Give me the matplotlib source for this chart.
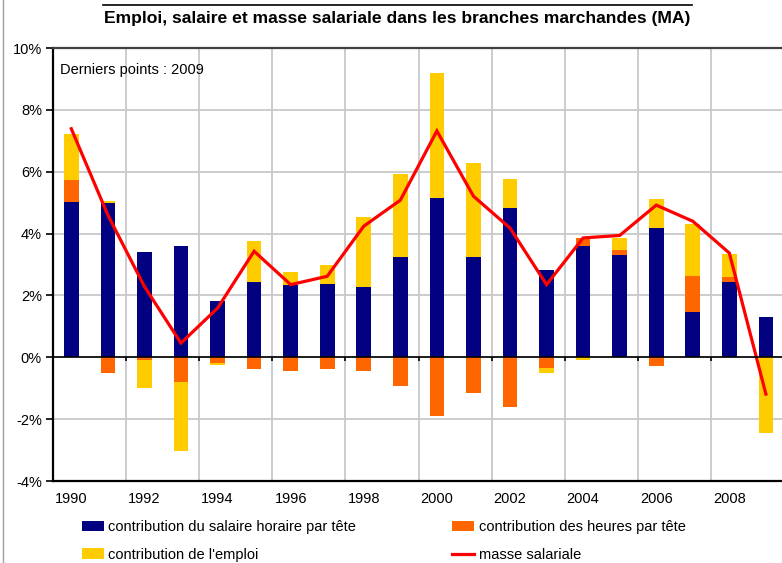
import numpy as np
import matplotlib
matplotlib.use("Agg")
import matplotlib.pyplot as plt
from matplotlib.lines import Line2D
from matplotlib.patches import Patch

# Data (contributions in % points)
years = list(range(1990, 2010))
salaire = [5.01, 5.00, 3.42, 3.59, 1.81, 2.45, 2.35, 2.37, 2.26, 3.25,
           5.14, 3.25, 4.83, 2.83, 3.59, 3.32, 4.18, 1.47, 2.43, 1.30]
heures = [0.72, -0.50, -0.08, -0.81, -0.19, -0.39, -0.44, -0.39, -0.43, -0.94,
          -1.90, -1.14, -1.62, -0.33, 0.26, 0.16, -0.29, 1.15, 0.17, 0.00]
emploi = [1.49, 0.06, -0.90, -2.21, -0.05, 1.30, 0.41, 0.60, 2.27, 2.69,
          4.05, 3.04, 0.94, -0.17, -0.10, 0.38, 0.95, 1.69, 0.75, -2.44]
masse = [7.39, 4.60, 2.29, 0.46, 1.59, 3.43, 2.35, 2.62, 4.24, 5.08,
         7.32, 5.21, 4.18, 2.35, 3.86, 3.94, 4.92, 4.40, 3.37, -1.19]

series = [
    ("contribution du salaire horaire par tête", salaire, "#000080"),
    ("contribution des heures par tête", heures, "#FF6600"),
    ("contribution de l'emploi", emploi, "#FFCC00"),
]

plt.rcParams['font.family'] = ['Liberation Sans', 'DejaVu Sans']

fig = plt.figure(figsize=(7.82, 5.63), dpi=100)
ax = fig.add_axes([0.0678, 0.1456, 0.935, 0.7691])

x = np.arange(len(years))
pos_base = np.zeros(len(years))
neg_base = np.zeros(len(years))
for label, vals, col in series:
    v = np.array(vals)
    bottom = np.where(v >= 0, pos_base, neg_base)
    ax.bar(x, v, width=0.4, bottom=bottom, color=col, zorder=3, linewidth=0)
    pos_base += np.where(v >= 0, v, 0)
    neg_base += np.where(v < 0, v, 0)

ax.plot(x, masse, color="#FF0000", lw=2.3, zorder=4, solid_joinstyle='miter')

# axes
ax.set_xlim(-0.5, len(years) - 0.5)
ax.set_ylim(-4, 10)
ax.set_yticks(range(-4, 11, 2))
ax.set_yticklabels([f"{v}%" for v in range(-4, 11, 2)], fontsize=10.5)
ax.set_xticks(x[::2])
ax.set_xticklabels([str(y) for y in years[::2]], fontsize=10.5)
ax.tick_params(axis='x', length=0, pad=8)
ax.tick_params(axis='y', length=5, width=1.2, direction='out', pad=3)

for v in range(-2, 10, 2):
    ax.axhline(v, color="#c8c8c8", lw=1.3, zorder=1)
for b in np.arange(1.5, len(years) - 0.5, 2):
    ax.axvline(b, color="#c8c8c8", lw=1.3, zorder=1)
ax.axhline(0, color="black", lw=1.2, zorder=5)
ax.vlines(np.arange(1.5, len(years) - 0.5, 2), -0.12, 0, color="black",
          lw=1.2, zorder=5)

ax.spines['left'].set_linewidth(1.6)
ax.spines['bottom'].set_linewidth(1.6)
ax.spines['top'].set_linewidth(1.6)
ax.spines['top'].set_color("#404040")
ax.spines['right'].set_visible(False)

ax.text(0.01, 0.95, "Derniers points : 2009", transform=ax.transAxes,
        fontsize=10.5, va='center', ha='left')

# title with overline
fig.text(0.508, 0.968, "Emploi, salaire et masse salariale dans les branches marchandes (MA)",
         ha='center', va='center', fontsize=12.6, fontweight='bold')
fig.add_artist(Line2D([0.132, 0.885], [0.991, 0.991], color="black", lw=1.2))
fig.add_artist(Line2D([0.004, 0.004], [0, 1], color="#a0a0a0", lw=1))

# legend
handles = [
    Patch(facecolor="#000080", label=series[0][0]),
    Patch(facecolor="#FFCC00", label=series[2][0]),
    Patch(facecolor="#FF6600", label=series[1][0]),
    Line2D([], [], color="#FF0000", lw=2.3, label="masse salariale"),
]
fig.legend(handles=handles, ncol=2, loc='upper left',
           bbox_to_anchor=(0.105, 0.0755), frameon=False, fontsize=10.5,
           handlelength=1.5, handleheight=0.7, handletextpad=0.3,
           columnspacing=6.6, labelspacing=0.9, borderpad=0, borderaxespad=0)

fig.savefig("out.png", dpi=100)
